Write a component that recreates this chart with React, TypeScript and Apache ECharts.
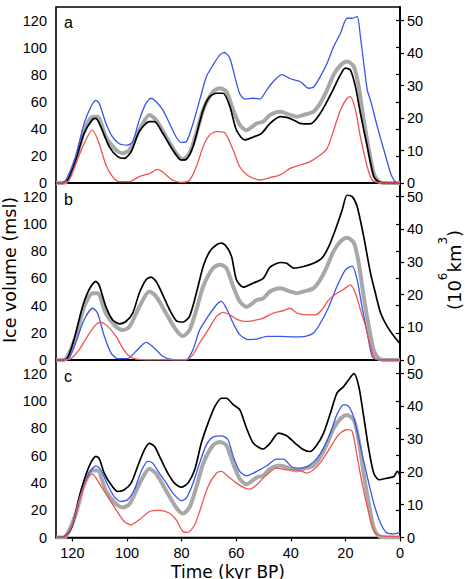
import React, { useEffect, useRef } from 'react';
import * as echarts from 'echarts';

type P = [number, number][];

// Time (kyr BP), ice volume (m sea level) — shared reference curve (gray) in all panels
const grayRef: P = [[126,0],[124,0],[122.5,0.5],[118.8,17],[115.7,39],[112.6,49],[110.8,49],[107.7,34],[104,24.4],[101.6,22],[99.1,24.4],[95.5,39],[91.8,50.3],[89.3,46.6],[85.6,34],[82,22],[79.5,17.5],[77.1,22],[74.6,36.7],[72.1,54],[68.5,67.5],[66,70],[63.6,67.5],[61.1,54],[58.7,43],[56.2,39],[52.5,44],[50.1,45.3],[47.6,50.3],[43.9,52.7],[40.2,50.3],[37.8,49],[35.3,50.3],[31.7,52.7],[29.2,59],[26.7,68.8],[24.3,80],[21.8,87],[19.4,89.7],[16.9,86],[15.1,71],[13.3,46.6],[11.4,24.4],[9.6,7],[7.7,1],[5,0],[0,0]];

// Panel a
const aBlack: P = [[126,0],[124,0],[121.8,2],[118.8,17],[115.7,36.7],[112.6,47],[111.4,47.8],[109.6,41.6],[106.5,26.9],[103.4,19.5],[101,18.2],[98.5,23],[95.5,38],[91.8,45.3],[89.9,45.3],[86.9,36.7],[83.2,24.4],[80.1,17],[78.3,17.5],[75.8,27],[72.1,54],[69.7,63.8],[67.2,66.3],[64.8,66.3],[62.3,56.4],[59.9,39],[56.8,31.8],[53.7,34],[50.7,36.7],[47.6,44],[43.9,49],[41.5,48.5],[39,46.6],[36.6,44],[32.9,43.6],[29.2,51.5],[25.5,65],[21.8,80],[20,84.8],[18.2,83.5],[16.3,71],[14.5,51.5],[12,27],[9.6,4.7],[7.7,0.7],[5,0],[0,0]];
const aBlue: P = [[126,0],[124,0],[122.5,1],[118.8,19.5],[115.7,44],[113.3,56],[111.4,61],[110.2,59],[107.7,44],[105.3,34],[102.8,29],[99.8,28],[97.9,30.5],[95.5,46.6],[93,59],[91.2,62.6],[89.3,60],[86.9,54],[84.4,44],[82,34],[80.1,30],[78.3,30.5],[75.8,44],[73.4,61],[70.9,78.6],[68.5,87],[66,94.6],[64.2,96.4],[62.3,92],[60.5,78.6],[58.7,66],[56.8,62],[53.7,62.6],[51.3,62],[48.8,68.8],[46.4,75],[43.3,80],[40.2,77],[36.6,75],[33.5,70],[31.7,70.7],[29.2,78.6],[26.7,88.5],[24.3,100.8],[21.8,110.6],[19.4,121.7],[17.5,121.7],[15.7,123],[14.5,108],[12,68.8],[10.8,61],[8.3,41.6],[5.9,24.4],[3.4,7],[2.2,2.2],[1,0.3],[0,0.3]];
const aRed: P = [[126,0],[123.5,0],[121.2,2],[118.2,17],[115.1,31.8],[112.6,39],[110.2,29],[107.7,13.3],[105.3,4.7],[102.8,1],[99.1,1],[95.5,4.7],[91.8,7],[88.7,10],[86.3,7],[83.2,2],[80.1,0.5],[77.1,2],[74.6,12],[72.1,27],[69.7,35.5],[67.2,38],[64.2,37.2],[61.1,24.4],[58.7,12],[55.6,5.4],[51.3,2.2],[47.6,4],[43.9,6],[40.2,10.8],[36.6,13.3],[32.9,15.8],[29.2,20.7],[26.7,25.6],[24.3,39],[21.8,54],[19.4,62.6],[18.2,63.8],[16.3,54],[14.5,34],[12,12],[10.2,2.2],[8.3,0.5],[5,0],[0,0]];

// Panel b
const bBlack: P = [[126,0],[124,0],[121.8,1.5],[119.4,15],[116.3,39],[113.9,51.6],[111.4,57.7],[110.2,55],[107.7,39],[105.3,29.6],[102.8,26.6],[100.4,28.3],[97.9,34.5],[95.5,49],[93,58.9],[91.2,60.8],[89.3,57.7],[86.9,47.9],[84.4,36.9],[82,29],[79.5,27.9],[77.1,32],[74.6,49],[72.1,68.7],[69.7,79.7],[67.2,84.6],[65.4,85.8],[63.6,83.3],[61.7,76],[59.9,58.9],[57.4,53.5],[53.7,56.5],[50.1,60],[47.6,68.2],[43.9,71.6],[41.5,71],[39,67.5],[35.3,68.7],[31.7,71],[28.6,74.8],[26.1,83.3],[23.7,95.5],[21.2,110],[19.4,121],[17.5,120],[15.7,112.7],[13.3,90.7],[10.8,63.8],[9,49],[7.1,34.5],[4.7,24.7],[2.2,17.4],[0,12]];
const bBlue: P = [[126,0],[124,0],[121.2,1.5],[118.8,12.5],[115.7,29.6],[112.6,38],[110.8,34.5],[108.3,17.4],[105.8,5],[103.4,1],[99.8,1],[96.7,6.4],[93,13],[90.6,10],[86.9,2.7],[83.2,0.2],[78.3,0.2],[75.8,7.6],[73.4,22],[70.3,32],[67.2,40.6],[65.4,43],[63.6,38],[61.1,27],[58.7,18.6],[55.6,15],[52.5,15.4],[48.8,17.4],[43.9,17.4],[39,17],[34.7,17.4],[31.7,19.8],[29.2,27],[26.1,39],[23.1,54],[20,66.2],[17.5,69],[15.7,59],[13.9,39],[12,19.8],[10.2,2.7],[8.3,0.2],[5,0],[0,0]];
const bRed: P = [[126,0],[123.5,0],[120.6,1],[117.5,7.6],[114.5,17.4],[111.4,26],[109.6,27.6],[107.1,24.7],[104,17.4],[101.6,8.8],[99.1,2.7],[96.7,0.7],[90,0.2],[78.3,0.2],[75.8,4],[73.4,12.5],[70.3,22],[67.2,32],[64.8,35],[62.3,33.2],[59.9,30],[56.8,28.3],[53.7,29],[50.1,30.8],[46.4,34.5],[42.7,36.2],[40.2,38],[37.8,34.5],[34.1,33.2],[31,33.2],[28.6,36.9],[26.1,44.2],[23.1,49],[20.6,52],[18.2,55.2],[16.3,49],[14.5,36.9],[12.6,24.7],[10.8,10],[9,0.7],[5,0],[0,0]];

// Panel c
const cBlack: P = [[126,0],[124.5,0],[122.5,1.2],[120.1,8],[117.1,32.5],[113.9,52],[111.4,59.4],[110.2,58],[108.3,47],[105.8,38.6],[103.4,33.7],[101,35],[98.5,39.8],[96.1,52],[93.6,64.3],[91.8,69],[89.9,66.7],[87.5,57],[85,47],[82.6,39.8],[80.1,36.9],[77.7,39.8],[75.2,49.6],[72.8,69],[70.3,83.8],[67.8,96],[65.4,102],[63.6,102],[61.1,97.3],[58.7,93.6],[56.2,80],[53.7,69],[50.1,64.8],[47.6,69],[44.5,76.5],[41.5,74.5],[38.4,69],[35.3,64.3],[32.9,63],[30.4,68],[28,76.5],[25.5,91],[23.1,105.8],[20.6,110.7],[18.8,115.6],[16.9,120],[15.1,110.7],[13.3,88.7],[11.4,64.3],[9.6,47],[7.7,42.3],[4.7,43.5],[2.2,44.7],[1,48.4],[0,46]];
const cBlue: P = [[126,0],[124.5,0],[122.5,1.2],[120.1,8],[117.1,30],[113.9,47],[111.4,52.5],[109.6,49.6],[107.1,38.6],[104.7,30],[102.2,26.4],[99.8,27.6],[97.3,35],[94.8,48.4],[92.4,55.7],[90.6,54.5],[88.1,47],[85.6,39.8],[83.2,32.5],[80.1,27],[78.3,28.8],[75.8,39.8],[73.4,54.5],[70.9,68],[68.5,73.6],[65.4,74.5],[63,71.6],[61.1,59.4],[58.7,48.4],[56.2,45.2],[52.5,48.4],[48.8,52.5],[45.2,57.4],[42.7,57.4],[39.6,51.6],[36.6,50.8],[33.5,52.5],[30.4,58],[28,65.5],[25.5,76.5],[23.1,90],[20.6,97.3],[18.8,96],[16.9,87.5],[14.5,66.7],[12,44.7],[9.6,25],[7.1,10.5],[4.7,3.2],[2.2,2.7],[0,3.7]];
const cRed: P = [[126,0],[124.5,0],[122.5,1.2],[120.1,9.3],[117.1,30],[114.5,43.5],[112.6,46.4],[110.2,39.8],[107.1,30],[104,20.3],[101,11.7],[98.5,9.3],[95.5,13],[91.8,19],[88.1,19.8],[84.4,17.8],[82,13],[79.5,4.4],[77.7,3.7],[75.2,9.3],[72.8,22.7],[70.3,37.4],[67.2,47.2],[65.4,48.4],[63,44.7],[59.9,39.8],[56.8,36.2],[55,35.4],[52.5,38.6],[48.8,46],[45.2,50.8],[41.5,49.6],[37.8,49.6],[34.1,47.2],[31,50.8],[28,58.2],[24.9,68],[22.5,75.3],[19.4,79],[17.5,77.7],[15.7,59.4],[13.9,39.8],[12,22.7],[10.2,8],[8.3,2],[4,0.8],[0,0.7]];

const panelLabels = ['a', 'b', 'c'];
const xTicks = [0, 20, 40, 60, 80, 100, 120];
const leftTicks = [0, 20, 40, 60, 80, 100, 120];
const rightTicks = [0, 10, 20, 30, 40, 50];

const X_MAX = 126;
const Y_MAX = 130;
const MSL_PER_VOL = 2.4; // 120 msl <-> 50 x10^6 km^3

const FONT = '"Liberation Sans", Arial, sans-serif';
const TITLE_FONT = '"DejaVu Sans", sans-serif';

const BLACK = '#000000';
const GRAY = '#a8a8a8';
const BLUE = '#3656e8';
const RED = '#f05252';

export default function App() {
  const ref = useRef<HTMLDivElement>(null);

  useEffect(() => {
    if (!ref.current) return;
    const chart = echarts.init(ref.current, null, { renderer: 'svg' });

    const tops = [7, 183, 360];
    const heights = [176, 177, 177.5];
    const panels: { black: P; blue: P; red: P }[] = [
      { black: aBlack, blue: aBlue, red: aRed },
      { black: bBlack, blue: bBlue, red: bRed },
      { black: cBlack, blue: cBlue, red: cRed },
    ];

    const grid = tops.map((t, i) => ({
      left: 56,
      width: 344,
      top: t,
      height: heights[i],
      show: true,
      borderColor: '#000',
      borderWidth: 1.6,
      backgroundColor: 'transparent',
    }));

    const labelStyle = { color: '#000', fontSize: 14.5, fontFamily: FONT };

    const xAxis = tops.map((_, i) => ({
      gridIndex: i,
      type: 'value',
      min: 0,
      max: X_MAX,
      inverse: true,
      splitLine: { show: false },
      axisLine: { show: true, onZero: false, lineStyle: { color: '#000', width: 1.6 } },
      axisTick: i === 2
        ? { show: true, inside: false, length: 4, customValues: xTicks, lineStyle: { color: '#000', width: 1.2 } }
        : { show: false },
      axisLabel: i === 2
        ? { show: true, customValues: xTicks, margin: 8, ...labelStyle }
        : { show: false },
    }));

    const yAxis: any[] = [];
    tops.forEach((_, i) => {
      yAxis.push({
        gridIndex: i,
        type: 'value',
        position: 'left',
        min: 0,
        max: Y_MAX,
        splitLine: { show: false },
        axisLine: { show: true, lineStyle: { color: '#000', width: 1.6 } },
        axisTick: { show: true, inside: false, length: 4, customValues: leftTicks, lineStyle: { color: '#000', width: 1.2 } },
        axisLabel: { show: true, customValues: leftTicks, margin: 9, ...labelStyle },
      });
      yAxis.push({
        gridIndex: i,
        type: 'value',
        position: 'right',
        min: 0,
        max: Y_MAX / MSL_PER_VOL,
        splitLine: { show: false },
        axisLine: { show: true, lineStyle: { color: '#000', width: 1.6 } },
        axisTick: { show: true, inside: false, length: 4, customValues: rightTicks, lineStyle: { color: '#000', width: 1.2 } },
        axisLabel: { show: true, customValues: rightTicks, margin: 7, ...labelStyle },
      });
    });

    const mk = (data: P, i: number, color: string, width: number, name: string) => ({
      type: 'line',
      name,
      xAxisIndex: i,
      yAxisIndex: i * 2,
      data,
      smooth: 0.25,
      symbol: 'none',
      showSymbol: false,
      lineStyle: { color, width },
      itemStyle: { color },
      silent: true,
    });

    const series: any[] = [];
    panels.forEach((p, i) => {
      series.push(mk(grayRef, i, GRAY, 4, 'reference'));
      series.push(mk(p.black, i, BLACK, 1.7, 'black'));
      series.push(mk(p.blue, i, BLUE, 1.3, 'blue'));
      series.push(mk(p.red, i, RED, 1.3, 'red'));
    });

    const letterY = [22.5, 199.5, 376.5];
    const graphic: any[] = panelLabels.map((t, i) => ({
      type: 'text',
      x: 64,
      y: letterY[i],
      style: { text: t, fill: '#000', font: `16px ${FONT}`, align: 'left', verticalAlign: 'middle' },
    }));
    graphic.push({
      type: 'text',
      x: 9.5,
      y: 270,
      rotation: Math.PI / 2,
      style: { text: 'Ice volume (msl)', fill: '#000', font: `17.5px ${TITLE_FONT}`, align: 'center', verticalAlign: 'middle' },
    });
    graphic.push({
      type: 'text',
      x: 228,
      y: 571.5,
      style: { text: 'Time (kyr BP)', fill: '#000', font: `17px ${TITLE_FONT}`, align: 'center', verticalAlign: 'middle' },
    });
    graphic.push({
      type: 'text',
      x: 450,
      y: 270,
      rotation: Math.PI / 2,
      style: {
        text: '{b|(10}{s|6}{b|km}{s|3}{b|)}',
        fill: '#000',
        align: 'center',
        verticalAlign: 'middle',
        rich: {
          b: { fontSize: 18, fontFamily: TITLE_FONT, lineHeight: 26, verticalAlign: 'bottom', fill: '#000' },
          s: { fontSize: 12, fontFamily: TITLE_FONT, lineHeight: 12, verticalAlign: 'top', fill: '#000' },
        },
      },
    });

    chart.setOption({
      animation: false,
      backgroundColor: '#ffffff',
      textStyle: { fontFamily: FONT },
      grid,
      xAxis,
      yAxis,
      series,
      graphic,
    });

    return () => chart.dispose();
  }, []);

  return (
    <div
      ref={ref}
      style={{ position: 'absolute', left: 0, top: 0, width: 465, height: 579 }}
    />
  );
}
